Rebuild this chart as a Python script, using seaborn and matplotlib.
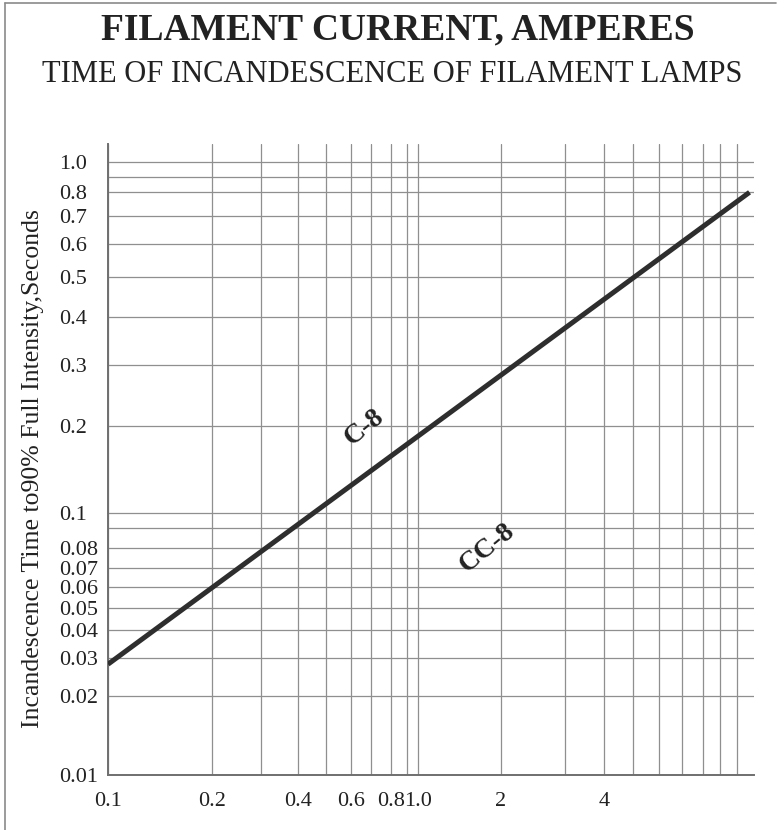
import numpy as np
import seaborn as sns
import matplotlib.pyplot as plt
from matplotlib.lines import Line2D

# data: filament current (A) vs time to 90% intensity (s), curve C-8
current = [0.1, 10.8]
time_s = [0.028, 0.8]

x_grid = [0.1, 0.2, 0.3, 0.4, 0.5, 0.6, 0.7, 0.8, 0.9, 1.0,
          2, 3, 4, 5, 6, 7, 8, 9, 10]
x_labels = ['0.1', '0.2', '', '0.4', '', '0.6', '', '0.8', '', '1.0',
            '2', '', '4', '', '', '', '', '', '']
y_grid = [0.01, 0.02, 0.03, 0.04, 0.05, 0.06, 0.07, 0.08, 0.09, 0.1,
          0.2, 0.3, 0.4, 0.5, 0.6, 0.7, 0.8, 0.9, 1.0]
y_labels = ['0.01', '0.02', '0.03', '0.04', '0.05', '0.06', '0.07', '0.08', '',
            '0.1', '0.2', '0.3', '0.4', '0.5', '0.6', '0.7', '0.8', '', '1.0']

# the printed log ruling is not quite even: where each ruled line sits
x_rule = [0.1, 0.2, 0.3, 0.4, 0.5, 0.6, 0.7, 0.8, 0.9, 1.0,
          2, 3, 4, 5, 6, 7, 8, 9, 10, 11.1]
x_rule_pos = [0, 104.2, 152.7, 189.7, 217.2, 242.2, 262.2, 282.2, 298.4, 309.7,
              392.2, 456, 494.7, 523.7, 550, 573, 594.2, 611.2, 627.7, 644.7]
y_rule = [0.01, 0.02, 0.03, 0.04, 0.05, 0.06, 0.07, 0.08, 0.09, 0.1,
          0.2, 0.3, 0.4, 0.5, 0.6, 0.7, 0.8, 0.9, 1.0, 1.14]
y_rule_pos = [0, 79, 117.3, 144.7, 167.3, 187.7, 207.3, 227.3, 246.7, 261.7,
              349.3, 410, 458.3, 497.7, 530.7, 559.3, 582.7, 598.3, 612.7, 631]


def ruling(vals, pos):
    lv = np.log10(vals)
    fwd = lambda v: np.interp(np.log10(np.clip(v, 1e-9, None)), lv, pos)
    inv = lambda p: 10 ** np.interp(p, pos, lv)
    return fwd, inv


sns.set_theme(style="ticks")
plt.rcParams['font.family'] = ['Liberation Serif', 'DejaVu Serif']
plt.rcParams['text.color'] = '#222222'

fig = plt.figure(figsize=(7.78, 8.30), dpi=100)
ax = fig.add_axes([108 / 778, 55 / 830, 646 / 778, 631 / 830])

sns.lineplot(x=current, y=time_s, ax=ax, color='#2e2e2e', linewidth=3.6,
             solid_capstyle='butt', zorder=5)

ax.set_xscale('function', functions=ruling(x_rule, x_rule_pos))
ax.set_yscale('function', functions=ruling(y_rule, y_rule_pos))
ax.set_xlim(0.1, 11.1)
ax.set_ylim(0.01, 1.14)

ax.set_xticks(x_grid, x_labels)
ax.set_yticks(y_grid, y_labels)
ax.minorticks_off()
ax.grid(True, color='#8f8f8f', linewidth=0.9)
ax.tick_params(axis='both', length=0, labelsize=16, colors='#222222')
ax.tick_params(axis='x', pad=12)
ax.tick_params(axis='y', pad=35.3)
for lab in ax.get_yticklabels():
    lab.set_horizontalalignment('left')

sns.despine(ax=ax)
for side in ['left', 'bottom']:
    ax.spines[side].set_color('#6f6f6f')
    ax.spines[side].set_linewidth(1.4)
ax.set_xlabel('')
ax.set_ylabel('')

ax.text(0.665, 0.198, 'C-8', fontsize=20, fontweight='bold', rotation=39,
        ha='center', va='center')
ax.text(1.78, 0.08, 'CC-8', fontsize=20, fontweight='bold', rotation=39,
        ha='center', va='center')

fig.text(398 / 778, 1 - 30 / 830, 'FILAMENT CURRENT, AMPERES', fontsize=27,
         fontweight='bold', ha='center', va='center')
fig.text(392 / 778, 1 - 74 / 830, 'TIME OF INCANDESCENCE OF FILAMENT LAMPS',
         fontsize=22, ha='center', va='center')
fig.text(33 / 778, 1 - 469 / 830, 'Incandescence Time to90% Full Intensity,Seconds',
         fontsize=18.5, rotation=90, ha='center', va='center')

# scanned page frame: top and left edges only
fig.add_artist(Line2D([5 / 778, 776 / 778], [1 - 3 / 830, 1 - 3 / 830],
                      color='#8a8a8a', linewidth=1.2))
fig.add_artist(Line2D([5 / 778, 5 / 778], [0, 1 - 3 / 830],
                      color='#8a8a8a', linewidth=1.2))

fig.savefig('out.png', dpi=100)
